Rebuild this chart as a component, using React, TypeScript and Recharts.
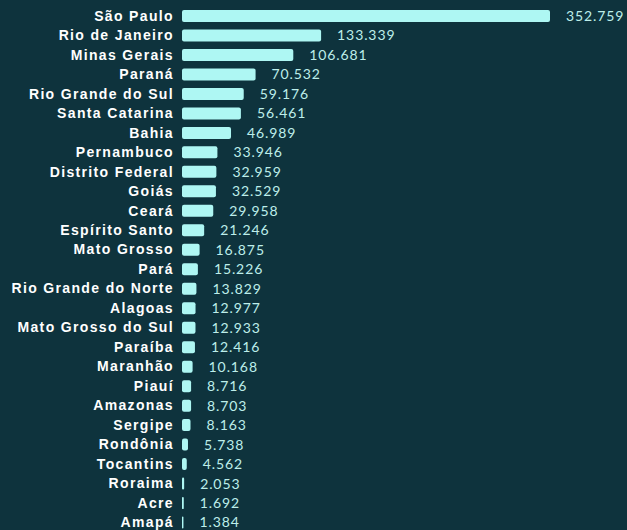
import React from "react";
import { BarChart, Bar, XAxis, YAxis, LabelList } from "recharts";

const states = [
  "São Paulo", "Rio de Janeiro", "Minas Gerais", "Paraná", "Rio Grande do Sul",
  "Santa Catarina", "Bahia", "Pernambuco", "Distrito Federal", "Goiás", "Ceará",
  "Espírito Santo", "Mato Grosso", "Pará", "Rio Grande do Norte", "Alagoas",
  "Mato Grosso do Sul", "Paraíba", "Maranhão", "Piauí", "Amazonas", "Sergipe",
  "Rondônia", "Tocantins", "Roraima", "Acre", "Amapá",
];

const values = [
  352759, 133339, 106681, 70532, 59176, 56461, 46989, 33946, 32959, 32529, 29958,
  21246, 16875, 15226, 13829, 12977, 12933, 12416, 10168, 8716, 8703, 8163,
  5738, 4562, 2053, 1692, 1384,
];

const data = states.map((name, i) => ({ name, value: values[i] }));

const fmt = (v: number) => String(v).replace(/\B(?=(\d{3})+(?!\d))/g, ".");

const BG = "#0e333d";
const BAR = "#aef7f3";

export default function App() {
  return (
    <div
      style={{
        position: "fixed",
        left: 0,
        top: 0,
        width: 627,
        height: 530,
        overflow: "hidden",
        background: BG,
      }}
    >
      <BarChart
        width={627}
        height={532}
        data={data}
        layout="vertical"
        margin={{ top: 6, right: 77, bottom: 0, left: 0 }}
        barSize={12}
      >
        <XAxis type="number" hide domain={[0, 352759]} />
        <YAxis
          type="category"
          dataKey="name"
          width={182}
          axisLine={false}
          tickLine={false}
          interval={0}
          tick={{
            fill: "#ffffff",
            fontSize: 14,
            fontWeight: 700,
            fontFamily: "Liberation Sans, Arial, sans-serif",
            letterSpacing: 1.35,
          }}
        />
        <Bar dataKey="value" fill={BAR} radius={2} isAnimationActive={false}>
          <LabelList
            dataKey="value"
            position="right"
            offset={16}
            formatter={(v: any) => fmt(Number(v))}
            style={{
              fill: "#bdeeea",
              fontSize: 14,
              fontWeight: 400,
              fontFamily: "Lato, sans-serif",
              letterSpacing: 0.9,
            }}
          />
        </Bar>
      </BarChart>
    </div>
  );
}
